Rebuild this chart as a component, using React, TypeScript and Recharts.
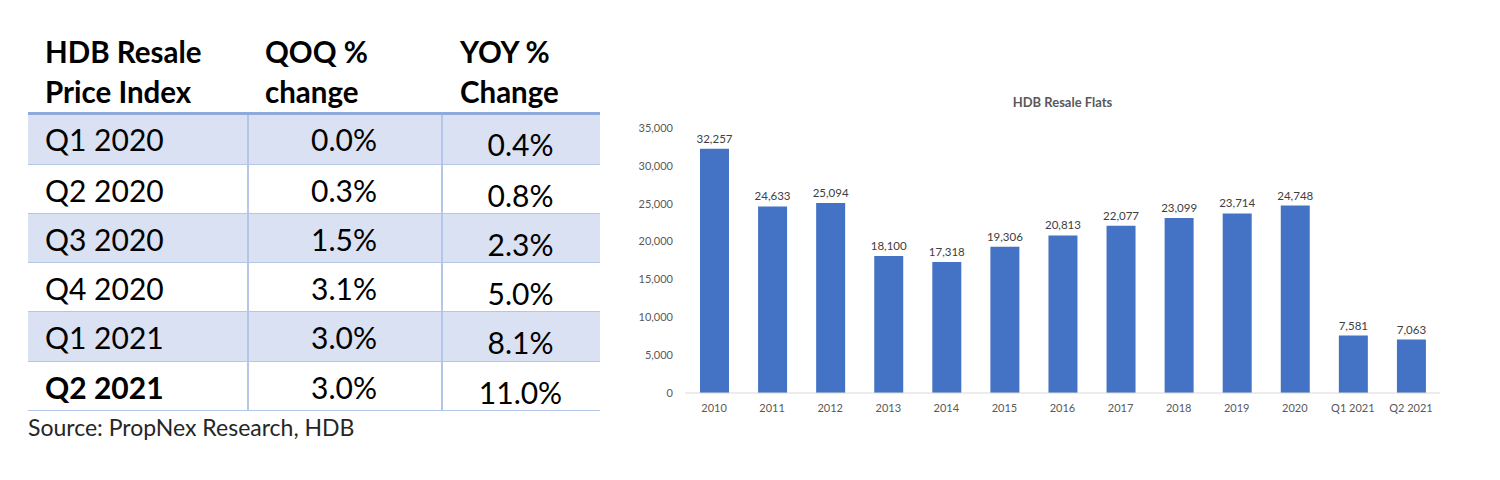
import React from 'react';
import { BarChart, Bar, XAxis, YAxis, LabelList } from 'recharts';

const categories = ['2010', '2011', '2012', '2013', '2014', '2015', '2016', '2017', '2018', '2019', '2020', 'Q1 2021', 'Q2 2021'];
const resaleFlats = [32257, 24633, 25094, 18100, 17318, 19306, 20813, 22077, 23099, 23714, 24748, 7581, 7063];
const yTicks = [0, 5000, 10000, 15000, 20000, 25000, 30000, 35000];

const headerLines = [
  ['HDB Resale', 'Price Index'],
  ['QOQ %', 'change'],
  ['YOY %', 'Change'],
];
const tableQuarters = ['Q1 2020', 'Q2 2020', 'Q3 2020', 'Q4 2020', 'Q1 2021', 'Q2 2021'];
const qoqChange = ['0.0%', '0.3%', '1.5%', '3.1%', '3.0%', '3.0%'];
const yoyChange = ['0.4%', '0.8%', '2.3%', '5.0%', '8.1%', '11.0%'];
const sourceNote = 'Source: PropNex Research, HDB';
const chartTitle = 'HDB Resale Flats';

const chartData = categories.map((c, i) => ({ category: c, flats: resaleFlats[i] }));
const fmt = (v: any) => Number(v).toLocaleString('en-US');

const FONT = 'Lato, "Open Sans", sans-serif';
const colX = [28, 247, 441, 600];
const headTextX = [45, 265, 460];
const rowTops = [113, 165, 214, 263, 312, 362, 411];

function Table() {
  return (
    <div style={{ position: 'absolute', left: 0, top: 0, width: 620, height: 480, fontFamily: FONT, color: '#000' }}>
      {headerLines.map((lines, ci) => (
        <div
          key={ci}
          style={{
            position: 'absolute',
            left: headTextX[ci],
            top: 32,
            fontSize: 29.5,
            fontWeight: 700,
            lineHeight: '40px',
            whiteSpace: 'nowrap',
          }}
        >
          {lines.map((l) => (
            <div key={l}>{l}</div>
          ))}
        </div>
      ))}
      {tableQuarters.map((q, ri) => {
        const top = rowTops[ri];
        const h = rowTops[ri + 1] - top;
        const shaded = ri % 2 === 0;
        const cells = [q, qoqChange[ri], yoyChange[ri]];
        return (
          <div
            key={q}
            style={{
              position: 'absolute',
              left: colX[0],
              top,
              width: colX[3] - colX[0],
              height: h,
              background: shaded ? '#D9E1F2' : '#FFFFFF',
              borderBottom: '1.5px solid #B4C6E7',
              boxSizing: 'border-box',
            }}
          >
            {cells.map((c, ci) => (
              <div
                key={ci}
                style={{
                  position: 'absolute',
                  left: colX[ci] - colX[0],
                  width: colX[ci + 1] - colX[ci],
                  top: ci === 2 ? 5 : 0,
                  height: h,
                  display: 'flex',
                  alignItems: 'center',
                  justifyContent: ci === 0 ? 'flex-start' : 'center',
                  paddingLeft: ci === 0 ? headTextX[0] - colX[0] : 0,
                  boxSizing: 'border-box',
                  fontSize: 30,
                  fontWeight: ci === 0 && ri === tableQuarters.length - 1 ? 700 : 400,
                  whiteSpace: 'nowrap',
                }}
              >
                {c}
              </div>
            ))}
          </div>
        );
      })}
      {[colX[1], colX[2]].map((x) => (
        <div
          key={x}
          style={{
            position: 'absolute',
            left: x,
            top: rowTops[0],
            width: 1.5,
            height: rowTops[rowTops.length - 1] - rowTops[0],
            background: '#B4C6E7',
          }}
        />
      ))}
      <div
        style={{
          position: 'absolute',
          left: colX[0],
          top: rowTops[0] - 1,
          width: colX[3] - colX[0],
          height: 3,
          background: '#8EA9DB',
        }}
      />
      <div
        style={{
          position: 'absolute',
          left: colX[0],
          top: 413,
          fontSize: 23,
          color: '#262626',
          whiteSpace: 'nowrap',
        }}
      >
        {sourceNote}
      </div>
    </div>
  );
}

function Chart() {
  return (
    <div style={{ position: 'absolute', left: 620, top: 80, width: 840, height: 360, fontFamily: FONT }}>
      <div
        style={{
          position: 'absolute',
          left: 65,
          width: 755,
          top: 14,
          textAlign: 'center',
          fontSize: 13,
          fontWeight: 700,
          color: '#595959',
        }}
      >
        {chartTitle}
      </div>
      <BarChart width={840} height={360} data={chartData} margin={{ top: 48, right: 20, bottom: 17, left: 0 }}>
        <XAxis
          dataKey="category"
          height={30}
          interval={0}
          tickLine={false}
          axisLine={{ stroke: '#D9D9D9' }}
          tick={{ fontSize: 11, fill: '#595959' }}
          tickMargin={5}
        />
        <YAxis
          width={65}
          domain={[0, 35000]}
          ticks={yTicks}
          tickFormatter={fmt}
          axisLine={false}
          tickLine={false}
          tick={{ fontSize: 11, fill: '#595959' }}
          tickMargin={6}
        />
        <Bar dataKey="flats" fill="#4472C4" barSize={29} isAnimationActive={false}>
          <LabelList dataKey="flats" position="top" offset={6} formatter={fmt} fill="#404040" fontSize={11.5} />
        </Bar>
      </BarChart>
    </div>
  );
}

export default function App() {
  return (
    <div style={{ position: 'absolute', left: 0, top: 0, width: 1500, height: 480, background: '#fff' }}>
      <Table />
      <Chart />
    </div>
  );
}
